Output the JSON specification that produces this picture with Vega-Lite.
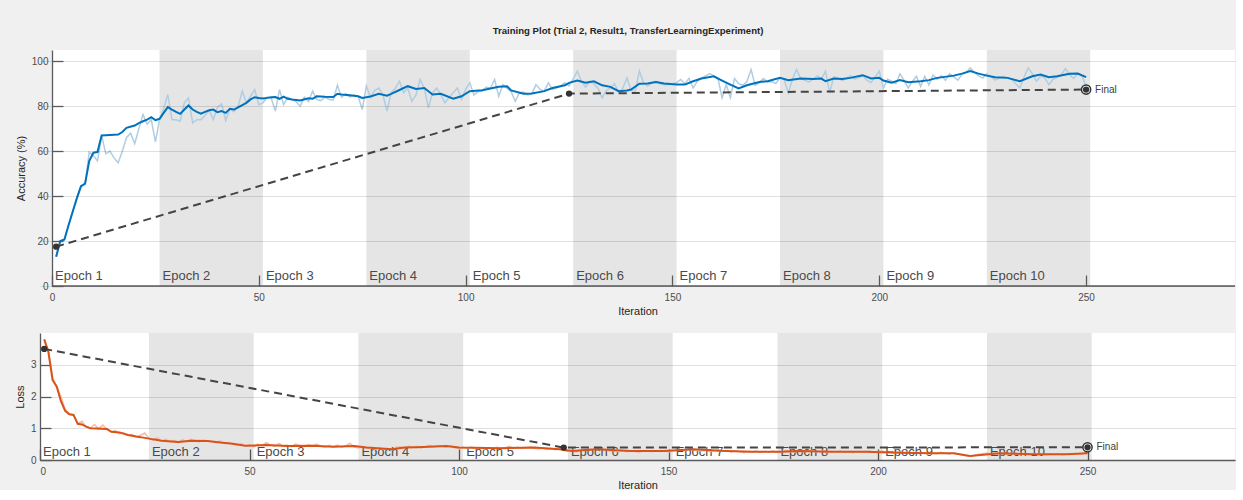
{
  "$schema": "https://vega.github.io/schema/vega-lite/v6.json",
  "padding": {"left": 14, "top": 26, "right": 0, "bottom": 0},
  "background": "#f0f0f0",
  "title": {"text": "Training Plot (Trial 2, Result1, TransferLearningExperiment)", "anchor": "middle", "fontSize": 9.6, "fontWeight": "bold", "font": "Liberation Sans", "color": "#262626", "offset": 14, "dx": 3},
  "spacing": 17,
  "datasets": {
    "epochs": [
      {"n": 1, "label": "Epoch 1", "s": 0, "e": 26},
      {"n": 2, "label": "Epoch 2", "s": 26, "e": 51},
      {"n": 3, "label": "Epoch 3", "s": 51, "e": 76},
      {"n": 4, "label": "Epoch 4", "s": 76, "e": 101},
      {"n": 5, "label": "Epoch 5", "s": 101, "e": 126},
      {"n": 6, "label": "Epoch 6", "s": 126, "e": 151},
      {"n": 7, "label": "Epoch 7", "s": 151, "e": 176},
      {"n": 8, "label": "Epoch 8", "s": 176, "e": 201},
      {"n": 9, "label": "Epoch 9", "s": 201, "e": 226},
      {"n": 10, "label": "Epoch 10", "s": 226, "e": 251}
    ],
    "accVal": [{"x": 1, "y": 17.5}, {"x": 125, "y": 85.6}, {"x": 250, "y": 87.4}],
    "lossVal": [{"x": 1, "y": 3.5}, {"x": 125, "y": 0.39}, {"x": 250, "y": 0.4}],
    "accSm": [
      {"x":1,"y":13},{"x":2,"y":20},{"x":3,"y":20.7},{"x":4,"y":27},{"x":5,"y":33},{"x":6,"y":39},{"x":7,"y":44.4},{"x":8,"y":45.5},{"x":9,"y":55.6},{"x":10,"y":59.3},{"x":11,"y":59.6},{"x":12,"y":67},{"x":14,"y":67.2},{"x":16,"y":67.4},{"x":17,"y":68.5},{"x":18,"y":70.4},{"x":20,"y":71.4},{"x":21,"y":72.5},{"x":22,"y":73.3},{"x":23,"y":74},{"x":24,"y":75.1},{"x":25,"y":73.8},{"x":26,"y":74.4},{"x":27,"y":77},{"x":28,"y":79.6},{"x":29,"y":78.5},{"x":30,"y":77.5},{"x":31,"y":76.6},{"x":32,"y":78.5},{"x":33,"y":80.3},{"x":34,"y":78.5},{"x":35,"y":77.5},{"x":36,"y":76.7},{"x":37,"y":77.5},{"x":38,"y":78.2},{"x":39,"y":78.5},{"x":40,"y":77.3},{"x":41,"y":77.8},{"x":42,"y":77},{"x":43,"y":78.8},{"x":44,"y":78.5},{"x":45,"y":79.5},{"x":46,"y":80.5},{"x":47,"y":81.5},{"x":48,"y":83},{"x":49,"y":84},{"x":50,"y":83.6},{"x":51,"y":83.4},{"x":52,"y":83.7},{"x":53,"y":84},{"x":54,"y":84.1},{"x":55,"y":83.3},{"x":56,"y":84.3},{"x":57,"y":83.3},{"x":58,"y":83},{"x":60,"y":82.5},{"x":62,"y":83.5},{"x":63,"y":83.3},{"x":64,"y":84.4},{"x":66,"y":84.2},{"x":68,"y":84.1},{"x":69,"y":85.5},{"x":70,"y":85.2},{"x":72,"y":84.9},{"x":74,"y":84.4},{"x":75,"y":83.7},{"x":77,"y":84.3},{"x":79,"y":85.5},{"x":81,"y":84.7},{"x":82,"y":85.5},{"x":84,"y":87.2},{"x":86,"y":88.9},{"x":88,"y":87.7},{"x":90,"y":88.1},{"x":92,"y":85.2},{"x":94,"y":85.5},{"x":97,"y":83.3},{"x":99,"y":84.4},{"x":101,"y":86.7},{"x":104,"y":87.1},{"x":106,"y":87.9},{"x":108,"y":88.6},{"x":110,"y":88.9},{"x":111,"y":87},{"x":114,"y":85.5},{"x":116,"y":85.6},{"x":119,"y":86.7},{"x":121,"y":88.1},{"x":124,"y":89.3},{"x":125,"y":90.4},{"x":127,"y":91.4},{"x":129,"y":90.4},{"x":131,"y":91.1},{"x":133,"y":89.3},{"x":135,"y":88.6},{"x":137,"y":86.7},{"x":139,"y":87},{"x":140,"y":87.4},{"x":142,"y":90},{"x":144,"y":90.1},{"x":146,"y":90.8},{"x":148,"y":90.1},{"x":151,"y":89.6},{"x":153,"y":89.6},{"x":155,"y":91.1},{"x":157,"y":92.3},{"x":160,"y":93.3},{"x":162,"y":91.4},{"x":164,"y":89.6},{"x":166,"y":87.9},{"x":168,"y":89.3},{"x":171,"y":90.8},{"x":173,"y":91.1},{"x":176,"y":92.6},{"x":178,"y":91.6},{"x":181,"y":92.3},{"x":184,"y":92.1},{"x":186,"y":92.3},{"x":187,"y":91.1},{"x":189,"y":92.3},{"x":191,"y":92.1},{"x":193,"y":92.6},{"x":196,"y":93.8},{"x":198,"y":92.3},{"x":200,"y":92.6},{"x":201,"y":91.4},{"x":203,"y":90.4},{"x":205,"y":91.6},{"x":207,"y":90.7},{"x":210,"y":91.1},{"x":212,"y":91.6},{"x":214,"y":92.6},{"x":218,"y":93.6},{"x":220,"y":94.5},{"x":222,"y":95.6},{"x":224,"y":94.5},{"x":226,"y":93.6},{"x":228,"y":92.9},{"x":231,"y":92.6},{"x":234,"y":91.1},{"x":237,"y":93.3},{"x":239,"y":94.1},{"x":241,"y":92.9},{"x":243,"y":93.3},{"x":246,"y":94.4},{"x":248,"y":94.5},{"x":250,"y":92.9}
    ],
    "accRaw": [
      {"x":1,"y":13},{"x":2,"y":20},{"x":3,"y":20.5},{"x":4,"y":27},{"x":5,"y":33},{"x":6,"y":39},{"x":7,"y":44},{"x":8,"y":45.5},{"x":9,"y":59.6},{"x":10,"y":58},{"x":11,"y":55.6},{"x":12,"y":67},{"x":13,"y":58.8},{"x":14,"y":60},{"x":15,"y":57},{"x":16,"y":54.8},{"x":17,"y":60},{"x":18,"y":66},{"x":19,"y":68},{"x":20,"y":63.3},{"x":21,"y":70},{"x":22,"y":76.3},{"x":23,"y":72},{"x":24,"y":74},{"x":25,"y":64.1},{"x":26,"y":74},{"x":27,"y":79},{"x":28,"y":85.2},{"x":29,"y":74},{"x":30,"y":74},{"x":31,"y":73.3},{"x":32,"y":81.5},{"x":33,"y":83.7},{"x":34,"y":72.6},{"x":35,"y":74},{"x":36,"y":74},{"x":37,"y":76},{"x":38,"y":78.2},{"x":39,"y":74},{"x":40,"y":79.5},{"x":41,"y":81},{"x":42,"y":73.6},{"x":43,"y":78.8},{"x":44,"y":77.5},{"x":45,"y":80},{"x":46,"y":86.7},{"x":47,"y":81.5},{"x":48,"y":84.5},{"x":49,"y":87.4},{"x":50,"y":80.7},{"x":51,"y":81.5},{"x":52,"y":84},{"x":53,"y":83.5},{"x":54,"y":77.8},{"x":55,"y":87.4},{"x":56,"y":80.7},{"x":57,"y":84},{"x":58,"y":83},{"x":59,"y":82},{"x":60,"y":80},{"x":61,"y":84},{"x":62,"y":82},{"x":63,"y":86.7},{"x":64,"y":83},{"x":65,"y":82.5},{"x":66,"y":84},{"x":67,"y":83},{"x":68,"y":82.8},{"x":69,"y":89.3},{"x":70,"y":84},{"x":71,"y":85.5},{"x":72,"y":84},{"x":73,"y":85},{"x":74,"y":84.5},{"x":75,"y":78.5},{"x":76,"y":89},{"x":77,"y":84},{"x":78,"y":87},{"x":79,"y":88.1},{"x":80,"y":85},{"x":81,"y":77.8},{"x":82,"y":86},{"x":83,"y":88},{"x":84,"y":91.1},{"x":85,"y":86},{"x":86,"y":88.1},{"x":87,"y":82.2},{"x":88,"y":85},{"x":89,"y":91.9},{"x":90,"y":88},{"x":91,"y":79.3},{"x":92,"y":86},{"x":93,"y":88.1},{"x":94,"y":85},{"x":95,"y":81.5},{"x":96,"y":84},{"x":97,"y":86},{"x":98,"y":88.1},{"x":99,"y":83},{"x":100,"y":87.5},{"x":101,"y":90.4},{"x":102,"y":85},{"x":103,"y":86.5},{"x":104,"y":86.7},{"x":105,"y":88.5},{"x":106,"y":88},{"x":107,"y":91.9},{"x":108,"y":84.4},{"x":109,"y":89.6},{"x":110,"y":88},{"x":111,"y":86.5},{"x":112,"y":82.2},{"x":113,"y":86},{"x":114,"y":86.3},{"x":115,"y":85},{"x":116,"y":85.5},{"x":117,"y":89.6},{"x":118,"y":87.5},{"x":119,"y":86.7},{"x":120,"y":90.4},{"x":121,"y":87.5},{"x":122,"y":88.1},{"x":123,"y":89},{"x":124,"y":90.4},{"x":125,"y":89},{"x":126,"y":92},{"x":127,"y":95.6},{"x":128,"y":91},{"x":129,"y":88.5},{"x":130,"y":91.1},{"x":131,"y":90},{"x":132,"y":88},{"x":133,"y":83.7},{"x":134,"y":87},{"x":135,"y":88.1},{"x":136,"y":90},{"x":137,"y":85.9},{"x":138,"y":88},{"x":139,"y":92.6},{"x":140,"y":87},{"x":141,"y":86.7},{"x":142,"y":95.6},{"x":143,"y":90.5},{"x":144,"y":89},{"x":145,"y":90.5},{"x":146,"y":91.1},{"x":147,"y":90},{"x":148,"y":89.5},{"x":149,"y":89.6},{"x":150,"y":90},{"x":151,"y":90.5},{"x":152,"y":91.9},{"x":153,"y":90},{"x":154,"y":92.3},{"x":155,"y":88.1},{"x":156,"y":91.1},{"x":157,"y":92.5},{"x":158,"y":93.5},{"x":159,"y":94.5},{"x":160,"y":93.5},{"x":161,"y":92.3},{"x":162,"y":83.7},{"x":163,"y":89.6},{"x":164,"y":83.7},{"x":165,"y":92.3},{"x":166,"y":90},{"x":167,"y":89.3},{"x":168,"y":91},{"x":169,"y":96.3},{"x":170,"y":89.3},{"x":171,"y":90.5},{"x":172,"y":92.3},{"x":173,"y":90.8},{"x":174,"y":91},{"x":175,"y":90.1},{"x":176,"y":92.6},{"x":177,"y":92},{"x":178,"y":85.9},{"x":179,"y":92},{"x":180,"y":96.3},{"x":181,"y":92.3},{"x":182,"y":91.5},{"x":183,"y":90.8},{"x":184,"y":92},{"x":185,"y":93.5},{"x":186,"y":92.1},{"x":187,"y":95.6},{"x":188,"y":85.9},{"x":189,"y":93},{"x":190,"y":92.6},{"x":191,"y":91.5},{"x":192,"y":92.2},{"x":193,"y":93.6},{"x":194,"y":92},{"x":195,"y":92.6},{"x":196,"y":93.5},{"x":197,"y":91.6},{"x":198,"y":90.5},{"x":199,"y":93},{"x":200,"y":95.6},{"x":201,"y":88.1},{"x":202,"y":92},{"x":203,"y":91.1},{"x":204,"y":90},{"x":205,"y":94.4},{"x":206,"y":91.5},{"x":207,"y":88.1},{"x":208,"y":91},{"x":209,"y":93.3},{"x":210,"y":88.8},{"x":211,"y":93.3},{"x":212,"y":89.5},{"x":213,"y":93.8},{"x":214,"y":92},{"x":215,"y":93.5},{"x":216,"y":91.5},{"x":217,"y":94.5},{"x":218,"y":93},{"x":219,"y":91.6},{"x":220,"y":94.2},{"x":221,"y":95},{"x":222,"y":97},{"x":223,"y":95},{"x":224,"y":93.5},{"x":225,"y":92.5},{"x":226,"y":94.4},{"x":227,"y":93},{"x":228,"y":91.6},{"x":229,"y":92.5},{"x":230,"y":93.3},{"x":231,"y":92.6},{"x":232,"y":92},{"x":233,"y":90},{"x":234,"y":88.1},{"x":235,"y":93},{"x":236,"y":97},{"x":237,"y":94.5},{"x":238,"y":91.1},{"x":239,"y":93.3},{"x":240,"y":92.6},{"x":241,"y":89.6},{"x":242,"y":92},{"x":243,"y":92.8},{"x":244,"y":94},{"x":245,"y":96.7},{"x":246,"y":94},{"x":247,"y":92.3},{"x":248,"y":94.4},{"x":249,"y":93.5},{"x":250,"y":88.9}
    ],
    "lossSm": [
      {"x":1,"y":3.8},{"x":2,"y":3.4},{"x":3,"y":2.52},{"x":4,"y":2.31},{"x":5,"y":1.85},{"x":6,"y":1.55},{"x":7,"y":1.44},{"x":8,"y":1.42},{"x":9,"y":1.14},{"x":10,"y":1.12},{"x":11,"y":1.05},{"x":12,"y":1.0},{"x":16,"y":0.98},{"x":17,"y":0.89},{"x":19,"y":0.87},{"x":21,"y":0.79},{"x":23,"y":0.74},{"x":24,"y":0.72},{"x":27,"y":0.65},{"x":29,"y":0.61},{"x":33,"y":0.57},{"x":36,"y":0.61},{"x":40,"y":0.6},{"x":43,"y":0.55},{"x":46,"y":0.51},{"x":49,"y":0.45},{"x":54,"y":0.47},{"x":59,"y":0.44},{"x":65,"y":0.45},{"x":70,"y":0.42},{"x":75,"y":0.44},{"x":78,"y":0.39},{"x":84,"y":0.34},{"x":87,"y":0.39},{"x":90,"y":0.4},{"x":97,"y":0.44},{"x":100,"y":0.39},{"x":110,"y":0.37},{"x":118,"y":0.39},{"x":124,"y":0.34},{"x":127,"y":0.28},{"x":133,"y":0.34},{"x":141,"y":0.28},{"x":149,"y":0.28},{"x":156,"y":0.34},{"x":162,"y":0.29},{"x":170,"y":0.26},{"x":177,"y":0.26},{"x":181,"y":0.28},{"x":189,"y":0.26},{"x":197,"y":0.26},{"x":205,"y":0.23},{"x":213,"y":0.21},{"x":218,"y":0.21},{"x":222,"y":0.13},{"x":229,"y":0.21},{"x":237,"y":0.18},{"x":245,"y":0.18},{"x":250,"y":0.21}
    ],
    "lossRaw": [
      {"x":1,"y":3.8},{"x":2,"y":3.45},{"x":3,"y":2.6},{"x":4,"y":2.3},{"x":5,"y":2.0},{"x":6,"y":1.6},{"x":7,"y":1.45},{"x":8,"y":1.42},{"x":9,"y":1.15},{"x":10,"y":1.22},{"x":11,"y":1.05},{"x":12,"y":1.0},{"x":13,"y":1.12},{"x":14,"y":0.98},{"x":15,"y":1.1},{"x":16,"y":0.95},{"x":17,"y":0.9},{"x":18,"y":0.93},{"x":19,"y":0.82},{"x":20,"y":0.85},{"x":21,"y":0.78},{"x":22,"y":0.8},{"x":23,"y":0.72},{"x":24,"y":0.78},{"x":25,"y":0.85},{"x":26,"y":0.68},{"x":27,"y":0.62},{"x":28,"y":0.7},{"x":29,"y":0.6},{"x":30,"y":0.66},{"x":31,"y":0.58},{"x":32,"y":0.62},{"x":33,"y":0.55},{"x":34,"y":0.64},{"x":35,"y":0.58},{"x":36,"y":0.66},{"x":37,"y":0.6},{"x":38,"y":0.57},{"x":39,"y":0.62},{"x":40,"y":0.6},{"x":41,"y":0.58},{"x":42,"y":0.55},{"x":43,"y":0.6},{"x":44,"y":0.52},{"x":45,"y":0.55},{"x":46,"y":0.5},{"x":47,"y":0.46},{"x":48,"y":0.52},{"x":49,"y":0.44},{"x":50,"y":0.48},{"x":51,"y":0.42},{"x":52,"y":0.5},{"x":53,"y":0.45},{"x":54,"y":0.55},{"x":55,"y":0.47},{"x":56,"y":0.43},{"x":57,"y":0.52},{"x":58,"y":0.44},{"x":59,"y":0.47},{"x":60,"y":0.42},{"x":61,"y":0.5},{"x":62,"y":0.46},{"x":63,"y":0.42},{"x":64,"y":0.48},{"x":65,"y":0.45},{"x":66,"y":0.5},{"x":67,"y":0.44},{"x":68,"y":0.4},{"x":69,"y":0.46},{"x":70,"y":0.42},{"x":71,"y":0.47},{"x":72,"y":0.4},{"x":73,"y":0.45},{"x":74,"y":0.52},{"x":75,"y":0.41},{"x":76,"y":0.38},{"x":77,"y":0.42},{"x":78,"y":0.36},{"x":79,"y":0.4},{"x":80,"y":0.34},{"x":81,"y":0.38},{"x":82,"y":0.33},{"x":83,"y":0.36},{"x":84,"y":0.32},{"x":85,"y":0.4},{"x":86,"y":0.42},{"x":87,"y":0.38},{"x":88,"y":0.44},{"x":89,"y":0.4},{"x":90,"y":0.43},{"x":91,"y":0.38},{"x":92,"y":0.42},{"x":93,"y":0.46},{"x":94,"y":0.42},{"x":95,"y":0.45},{"x":96,"y":0.43},{"x":97,"y":0.4},{"x":98,"y":0.44},{"x":99,"y":0.38},{"x":100,"y":0.36},{"x":101,"y":0.4},{"x":102,"y":0.37},{"x":103,"y":0.41},{"x":104,"y":0.36},{"x":105,"y":0.39},{"x":106,"y":0.35},{"x":107,"y":0.38},{"x":108,"y":0.36},{"x":109,"y":0.4},{"x":110,"y":0.37},{"x":111,"y":0.39},{"x":112,"y":0.43},{"x":113,"y":0.38},{"x":114,"y":0.4},{"x":115,"y":0.36},{"x":116,"y":0.39},{"x":117,"y":0.41},{"x":118,"y":0.37},{"x":119,"y":0.35},{"x":120,"y":0.38},{"x":121,"y":0.33},{"x":122,"y":0.36},{"x":123,"y":0.32},{"x":124,"y":0.35},{"x":125,"y":0.3},{"x":126,"y":0.27},{"x":127,"y":0.3},{"x":128,"y":0.25},{"x":129,"y":0.32},{"x":130,"y":0.3},{"x":131,"y":0.36},{"x":132,"y":0.33},{"x":133,"y":0.37},{"x":134,"y":0.32},{"x":135,"y":0.34},{"x":136,"y":0.28},{"x":137,"y":0.3},{"x":138,"y":0.26},{"x":139,"y":0.29},{"x":140,"y":0.25},{"x":141,"y":0.3},{"x":142,"y":0.27},{"x":143,"y":0.24},{"x":144,"y":0.3},{"x":145,"y":0.28},{"x":146,"y":0.26},{"x":147,"y":0.3},{"x":148,"y":0.27},{"x":149,"y":0.29},{"x":150,"y":0.25},{"x":151,"y":0.28},{"x":152,"y":0.31},{"x":153,"y":0.34},{"x":154,"y":0.3},{"x":155,"y":0.36},{"x":156,"y":0.32},{"x":157,"y":0.3},{"x":158,"y":0.28},{"x":159,"y":0.31},{"x":160,"y":0.26},{"x":161,"y":0.3},{"x":162,"y":0.33},{"x":163,"y":0.27},{"x":164,"y":0.3},{"x":165,"y":0.25},{"x":166,"y":0.28},{"x":167,"y":0.26},{"x":168,"y":0.23},{"x":169,"y":0.27},{"x":170,"y":0.25},{"x":171,"y":0.28},{"x":172,"y":0.24},{"x":173,"y":0.27},{"x":174,"y":0.25},{"x":175,"y":0.28},{"x":176,"y":0.24},{"x":177,"y":0.26},{"x":178,"y":0.3},{"x":179,"y":0.27},{"x":180,"y":0.25},{"x":181,"y":0.29},{"x":182,"y":0.26},{"x":183,"y":0.28},{"x":184,"y":0.3},{"x":185,"y":0.27},{"x":186,"y":0.25},{"x":187,"y":0.3},{"x":188,"y":0.24},{"x":189,"y":0.27},{"x":190,"y":0.25},{"x":191,"y":0.28},{"x":192,"y":0.24},{"x":193,"y":0.26},{"x":194,"y":0.23},{"x":195,"y":0.27},{"x":196,"y":0.25},{"x":197,"y":0.26},{"x":198,"y":0.28},{"x":199,"y":0.24},{"x":200,"y":0.26},{"x":201,"y":0.29},{"x":202,"y":0.23},{"x":203,"y":0.25},{"x":204,"y":0.22},{"x":205,"y":0.26},{"x":206,"y":0.21},{"x":207,"y":0.24},{"x":208,"y":0.22},{"x":209,"y":0.25},{"x":210,"y":0.2},{"x":211,"y":0.23},{"x":212,"y":0.19},{"x":213,"y":0.22},{"x":214,"y":0.2},{"x":215,"y":0.24},{"x":216,"y":0.21},{"x":217,"y":0.19},{"x":218,"y":0.22},{"x":219,"y":0.2},{"x":220,"y":0.16},{"x":221,"y":0.13},{"x":222,"y":0.12},{"x":223,"y":0.15},{"x":224,"y":0.18},{"x":225,"y":0.2},{"x":226,"y":0.22},{"x":227,"y":0.19},{"x":228,"y":0.23},{"x":229,"y":0.2},{"x":230,"y":0.22},{"x":231,"y":0.18},{"x":232,"y":0.21},{"x":233,"y":0.19},{"x":234,"y":0.17},{"x":235,"y":0.2},{"x":236,"y":0.16},{"x":237,"y":0.19},{"x":238,"y":0.17},{"x":239,"y":0.2},{"x":240,"y":0.15},{"x":241,"y":0.19},{"x":242,"y":0.17},{"x":243,"y":0.2},{"x":244,"y":0.16},{"x":245,"y":0.19},{"x":246,"y":0.17},{"x":247,"y":0.2},{"x":248,"y":0.18},{"x":249,"y":0.21},{"x":250,"y":0.22}
    ]
  },
  "vconcat": [
    {
      "width": 1195,
      "height": 236,
      "view": {"fill": "#f0f0f0", "stroke": null},
      "layer": [
        {
          "data": {"values": [{}]},
          "mark": {"type": "rect", "color": "#ffffff"},
          "encoding": {
            "x": {"datum": 0, "type": "quantitative", "scale": {"domain": [-2.9, 286], "nice": false}, "axis": {"values": [0, 50, 100, 150, 200, 250], "title": "Iteration", "domain": false, "zindex": 1}},
            "x2": {"datum": 286}
          }
        },
        {
          "data": {"name": "epochs"},
          "transform": [{"filter": "datum.n % 2 == 0"}],
          "mark": {"type": "rect", "color": "#000000", "opacity": 0.1},
          "encoding": {
            "x": {"field": "s", "type": "quantitative"},
            "x2": {"field": "e"}
          }
        },
        {
          "data": {"values": [{}]},
          "mark": {"type": "rule", "color": "#5a5a5a", "strokeWidth": 1.3},
          "encoding": {
            "x": {"datum": 0, "type": "quantitative"},
            "x2": {"datum": 286},
            "y": {"datum": 0, "type": "quantitative"}
          }
        },
        {
          "data": {"name": "epochs"},
          "mark": {"type": "text", "align": "left", "baseline": "alphabetic", "dx": 3, "dy": -6, "fontSize": 13, "font": "Liberation Sans", "color": "#4a4a4a"},
          "encoding": {
            "x": {"field": "s", "type": "quantitative"},
            "y": {"datum": 0, "type": "quantitative"},
            "text": {"field": "label"}
          }
        },
        {
          "data": {"name": "accRaw"},
          "mark": {"type": "line", "color": "#b0cde1", "strokeWidth": 1.5},
          "encoding": {
            "x": {"field": "x", "type": "quantitative"},
            "y": {"field": "y", "type": "quantitative", "scale": {"domain": [0, 105], "nice": false}, "axis": {"values": [0, 20, 40, 60, 80, 100], "title": "Accuracy (%)", "offset": -12, "zindex": 1}}
          }
        },
        {
          "data": {"name": "accSm"},
          "mark": {"type": "line", "color": "#0072bd", "strokeWidth": 2},
          "encoding": {
            "x": {"field": "x", "type": "quantitative"},
            "y": {"field": "y", "type": "quantitative"}
          }
        },
        {
          "data": {"name": "accVal"},
          "mark": {"type": "line", "color": "#444444", "strokeWidth": 2, "strokeDash": [8, 5]},
          "encoding": {
            "x": {"field": "x", "type": "quantitative"},
            "y": {"field": "y", "type": "quantitative"}
          }
        },
        {
          "data": {"name": "accVal"},
          "transform": [{"filter": "datum.x == 250"}],
          "mark": {"type": "point", "filled": false, "fill": "white", "fillOpacity": 1, "stroke": "#333333", "strokeWidth": 1.5, "size": 85, "opacity": 1},
          "encoding": {
            "x": {"field": "x", "type": "quantitative"},
            "y": {"field": "y", "type": "quantitative"}
          }
        },
        {
          "data": {"name": "accVal"},
          "mark": {"type": "circle", "color": "#333333", "size": 40, "opacity": 1},
          "encoding": {
            "x": {"field": "x", "type": "quantitative"},
            "y": {"field": "y", "type": "quantitative"}
          }
        },
        {
          "data": {"name": "accVal"},
          "transform": [{"filter": "datum.x == 250"}],
          "mark": {"type": "text", "align": "left", "baseline": "middle", "dx": 9, "fontSize": 10, "font": "Liberation Sans", "color": "#404040", "text": "Final"},
          "encoding": {
            "x": {"field": "x", "type": "quantitative"},
            "y": {"field": "y", "type": "quantitative"}
          }
        }
      ]
    },
    {
      "width": 1195,
      "height": 127,
      "layer": [
        {
          "data": {"name": "epochs"},
          "transform": [{"filter": "datum.n % 2 == 0"}],
          "mark": {"type": "rect", "color": "#000000", "opacity": 0.1},
          "encoding": {
            "x": {"field": "s", "type": "quantitative", "scale": {"domain": [0, 285.2], "nice": false}, "axis": {"values": [0, 50, 100, 150, 200, 250], "title": "Iteration"}},
            "x2": {"field": "e"}
          }
        },
        {
          "data": {"name": "epochs"},
          "mark": {"type": "text", "align": "left", "baseline": "alphabetic", "dx": 3, "dy": -4, "fontSize": 13, "font": "Liberation Sans", "color": "#4a4a4a"},
          "encoding": {
            "x": {"field": "s", "type": "quantitative"},
            "y": {"datum": 0, "type": "quantitative"},
            "text": {"field": "label"}
          }
        },
        {
          "data": {"name": "lossRaw"},
          "mark": {"type": "line", "color": "#f2bda5", "strokeWidth": 1.5},
          "encoding": {
            "x": {"field": "x", "type": "quantitative"},
            "y": {"field": "y", "type": "quantitative", "scale": {"domain": [0, 4], "nice": false}, "axis": {"values": [0, 1, 2, 3], "title": "Loss"}}
          }
        },
        {
          "data": {"name": "lossSm"},
          "mark": {"type": "line", "color": "#d95319", "strokeWidth": 2},
          "encoding": {
            "x": {"field": "x", "type": "quantitative"},
            "y": {"field": "y", "type": "quantitative"}
          }
        },
        {
          "data": {"name": "lossVal"},
          "mark": {"type": "line", "color": "#444444", "strokeWidth": 2, "strokeDash": [8, 5]},
          "encoding": {
            "x": {"field": "x", "type": "quantitative"},
            "y": {"field": "y", "type": "quantitative"}
          }
        },
        {
          "data": {"name": "lossVal"},
          "transform": [{"filter": "datum.x == 250"}],
          "mark": {"type": "point", "filled": false, "fill": "white", "fillOpacity": 1, "stroke": "#333333", "strokeWidth": 1.5, "size": 85, "opacity": 1},
          "encoding": {
            "x": {"field": "x", "type": "quantitative"},
            "y": {"field": "y", "type": "quantitative"}
          }
        },
        {
          "data": {"name": "lossVal"},
          "mark": {"type": "circle", "color": "#333333", "size": 40, "opacity": 1},
          "encoding": {
            "x": {"field": "x", "type": "quantitative"},
            "y": {"field": "y", "type": "quantitative"}
          }
        },
        {
          "data": {"name": "lossVal"},
          "transform": [{"filter": "datum.x == 250"}],
          "mark": {"type": "text", "align": "left", "baseline": "middle", "dx": 9, "fontSize": 10, "font": "Liberation Sans", "color": "#404040", "text": "Final"},
          "encoding": {
            "x": {"field": "x", "type": "quantitative"},
            "y": {"field": "y", "type": "quantitative"}
          }
        }
      ]
    }
  ],
  "config": {
    "view": {"fill": "white", "stroke": null},
    "font": "Liberation Sans",
    "axis": {
      "labelFont": "Liberation Sans", "labelFontSize": 10, "labelColor": "#4d4d4d",
      "titleFont": "Liberation Sans", "titleFontSize": 11, "titleFontWeight": "normal", "titleColor": "#262626",
      "domainColor": "#5a5a5a", "domainWidth": 1.3, "tickColor": "#5a5a5a", "tickWidth": 1.3, "tickSize": -11,
      "gridColor": "rgba(0,0,0,0.12)", "gridWidth": 1
    },
    "axisX": {"grid": false, "labelPadding": 17, "titlePadding": 3},
    "axisY": {"grid": true, "labelPadding": 15, "titlePadding": 5}
  }
}
